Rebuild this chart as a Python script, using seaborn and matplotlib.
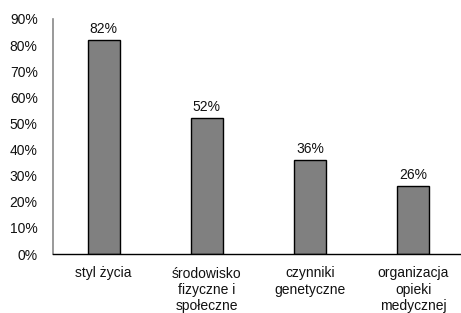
import matplotlib
matplotlib.use("Agg")
import matplotlib.pyplot as plt
import seaborn as sns
import pandas as pd
from matplotlib.ticker import PercentFormatter

# Dane
kategorie = ["styl życia", "środowisko\nfizyczne i\nspołeczne", "czynniki\ngenetyczne", "organizacja\nopieki\nmedycznej"]
wartosci = [82, 52, 36, 26]
df = pd.DataFrame({"kategoria": kategorie, "wartosc": wartosci})

sns.set_style("white")
plt.rcParams["font.family"] = ["Liberation Sans", "DejaVu Sans"]
fs = 10

fig = plt.figure(figsize=(4.61, 3.13), dpi=100)
ax = fig.add_axes([53 / 461, (313 - 254) / 313, (461 - 53) / 461, (254 - 19) / 313])

sns.barplot(data=df, x="kategoria", y="wartosc", color="#808080", width=0.31,
            edgecolor="black", linewidth=1, saturation=1, ax=ax)

for i, v in enumerate(wartosci):
    ax.annotate(f"{v}%", (i, v), xytext=(0, 3), textcoords="offset points",
                ha="center", va="bottom", fontsize=fs, color="#111111")

ax.set_ylim(0, 90)
ax.set_xlim(-0.49, 3.46)
ax.set_yticks(range(0, 91, 10))
ax.yaxis.set_major_formatter(PercentFormatter(decimals=0))
ax.tick_params(axis="y", length=0, pad=11, labelsize=fs, labelcolor="#111111")
ax.tick_params(axis="x", length=0, pad=9, labelsize=fs, labelcolor="#111111")
for lbl in ax.get_xticklabels():
    lbl.set_linespacing(1.2)
ax.set_xlabel("")
ax.set_ylabel("")

for s in ["top", "right"]:
    ax.spines[s].set_visible(False)
ax.spines["left"].set_color("#888888")
ax.spines["left"].set_linewidth(1.2)
ax.spines["bottom"].set_color("black")
ax.spines["bottom"].set_linewidth(1)

fig.savefig("out.png", dpi=100)
